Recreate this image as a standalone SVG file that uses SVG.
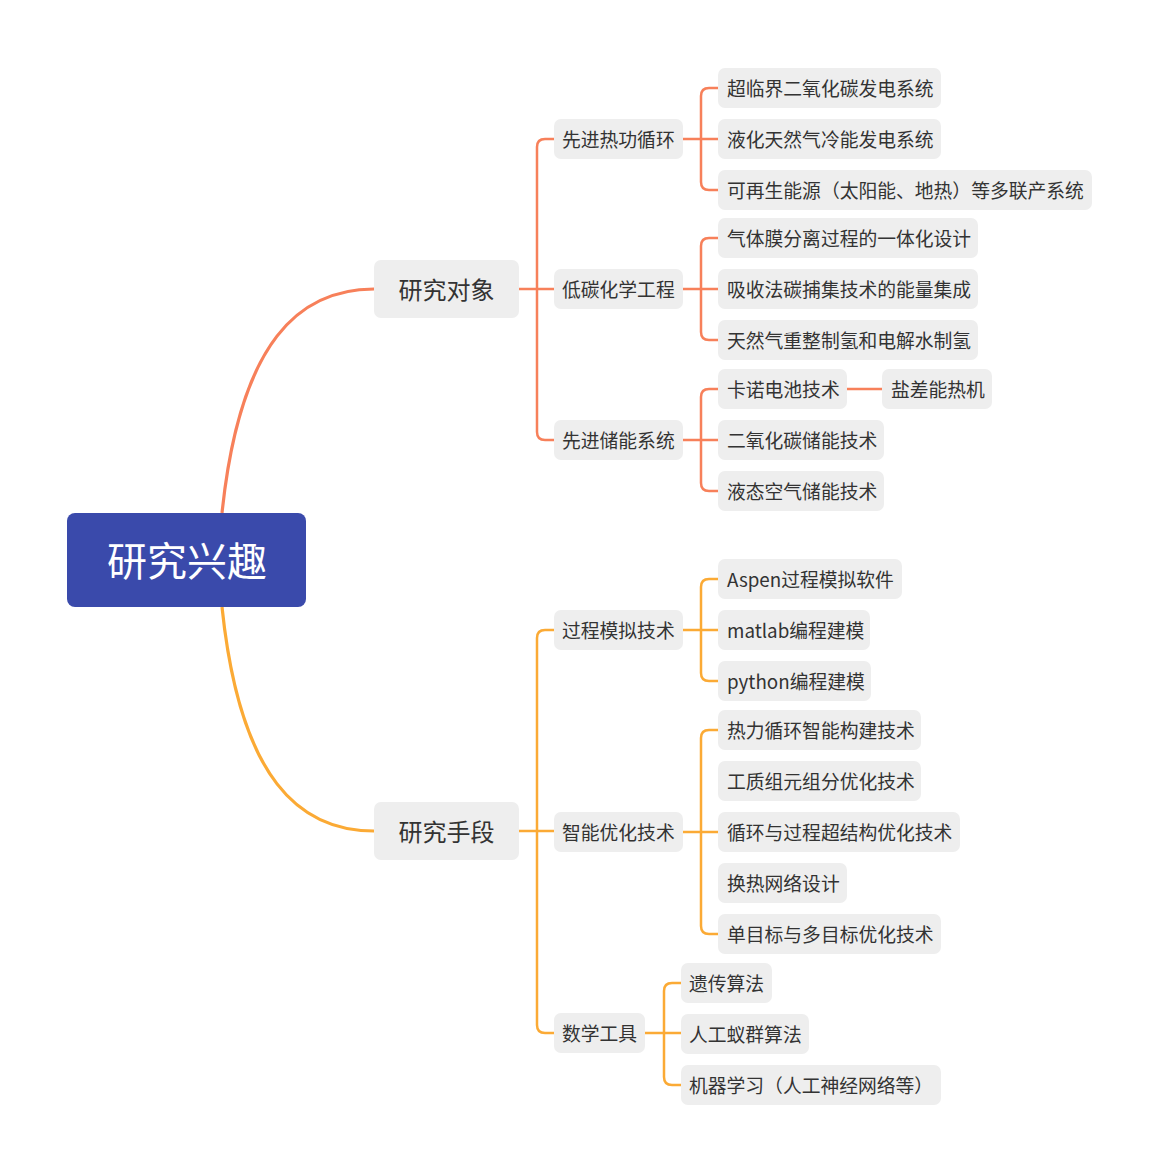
<svg xmlns="http://www.w3.org/2000/svg" width="1160" height="1172" viewBox="0 0 1160 1172">
<style>
.n{fill:#eeeeee}
.t{font-family:"Noto Sans CJK SC","Noto Sans",sans-serif;fill:#333333;dominant-baseline:central}
.l3{font-size:18.8px}
.l2{font-size:18.8px}
.l1{font-size:24px}
.o{fill:none;stroke:#f7805a;stroke-width:2.5}
.y{fill:none;stroke:#fbaa35;stroke-width:2.5}
</style>
<rect width="1160" height="1172" fill="#ffffff"/>
<g id="connectors">
<path class="o" d="M222,513 C240,340 300,289 374,289" style="stroke-width:3.2"/>
<path class="y" d="M222,607 C240,780 300,831 374,831" style="stroke-width:3.2"/>
<path class="o" d="M519,289 H554 M554,139 H545 Q537,139 537,147 V432 Q537,440 545,440 H554"/>
<path class="o" d="M683,139 H718 M718,88 H709 Q701,88 701,96 V182 Q701,190 709,190 H718"/>
<path class="o" d="M683,289 H718 M718,238 H709 Q701,238 701,246 V332 Q701,340 709,340 H718"/>
<path class="o" d="M683,440 H718 M718,389 H709 Q701,389 701,397 V483 Q701,491 709,491 H718"/>
<path class="o" d="M847,389 H882"/>
<path class="y" d="M519,831 H554 M554,630 H545 Q537,630 537,638 V1025 Q537,1033 545,1033 H554"/>
<path class="y" d="M683,630 H718 M718,579 H709 Q701,579 701,587 V673 Q701,681 709,681 H718"/>
<path class="y" d="M683,832 H718 M718,730 H709 Q701,730 701,738 V926 Q701,934 709,934 H718"/>
<path class="y" d="M645,1033 H681 M681,983 H672 Q664,983 664,991 V1077 Q664,1085 672,1085 H681"/>
</g>
<g id="root"><rect x="67" y="513" width="239" height="94" rx="8" fill="#3a4aab"/><text x="187" y="559" text-anchor="middle" font-family="Noto Sans CJK SC,sans-serif" font-size="40" fill="#ffffff" dominant-baseline="central">研究兴趣</text></g>
<g id="yjdx"><rect class="n" x="374" y="260" width="145" height="58" rx="7"/><text class="t l1" x="446.5" y="288" text-anchor="middle">研究对象</text></g>
<g id="yjsd"><rect class="n" x="374" y="802" width="145" height="58" rx="7"/><text class="t l1" x="446.5" y="830" text-anchor="middle">研究手段</text></g>
<g id="xjrg"><rect class="n" x="554" y="119" width="129" height="40" rx="7"/><text class="t l2" x="562" y="138">先进热功循环</text></g>
<g id="dthx"><rect class="n" x="554" y="269" width="129" height="40" rx="7"/><text class="t l2" x="562" y="288">低碳化学工程</text></g>
<g id="xjcn"><rect class="n" x="554" y="420" width="129" height="40" rx="7"/><text class="t l2" x="562" y="439">先进储能系统</text></g>
<g id="gcmn"><rect class="n" x="554" y="610" width="129" height="40" rx="7"/><text class="t l2" x="562" y="629">过程模拟技术</text></g>
<g id="znyh"><rect class="n" x="554" y="812" width="129" height="40" rx="7"/><text class="t l2" x="562" y="831">智能优化技术</text></g>
<g id="sxgj"><rect class="n" x="554" y="1013" width="91" height="40" rx="7"/><text class="t l2" x="562" y="1032">数学工具</text></g>
<g id="a1"><rect class="n" x="718" y="68" width="223" height="40" rx="7"/><text class="t l3" x="727" y="87">超临界二氧化碳发电系统</text></g>
<g id="a2"><rect class="n" x="718" y="119" width="223" height="40" rx="7"/><text class="t l3" x="727" y="138">液化天然气冷能发电系统</text></g>
<g id="a3"><rect class="n" x="718" y="170" width="374" height="40" rx="7"/><text class="t l3" x="727" y="189">可再生能源（太阳能、地热）等多联产系统</text></g>
<g id="b1"><rect class="n" x="718" y="218" width="260" height="40" rx="7"/><text class="t l3" x="727" y="237">气体膜分离过程的一体化设计</text></g>
<g id="b2"><rect class="n" x="718" y="269" width="260" height="40" rx="7"/><text class="t l3" x="727" y="288">吸收法碳捕集技术的能量集成</text></g>
<g id="b3"><rect class="n" x="718" y="320" width="260" height="40" rx="7"/><text class="t l3" x="727" y="339">天然气重整制氢和电解水制氢</text></g>
<g id="c1"><rect class="n" x="718" y="369" width="129" height="40" rx="7"/><text class="t l3" x="727" y="388">卡诺电池技术</text></g>
<g id="c1a"><rect class="n" x="882" y="369" width="110" height="40" rx="7"/><text class="t l3" x="891" y="388">盐差能热机</text></g>
<g id="c2"><rect class="n" x="718" y="420" width="166" height="40" rx="7"/><text class="t l3" x="727" y="439">二氧化碳储能技术</text></g>
<g id="c3"><rect class="n" x="718" y="471" width="166" height="40" rx="7"/><text class="t l3" x="727" y="490">液态空气储能技术</text></g>
<g id="d1"><rect class="n" x="718" y="559" width="184" height="40" rx="7"/><text class="t l3" x="727" y="578">Aspen过程模拟软件</text></g>
<g id="d2"><rect class="n" x="718" y="610" width="152" height="40" rx="7"/><text class="t l3" x="727" y="629">matlab编程建模</text></g>
<g id="d3"><rect class="n" x="718" y="661" width="153" height="40" rx="7"/><text class="t l3" x="727" y="680">python编程建模</text></g>
<g id="e1"><rect class="n" x="718" y="710" width="203" height="40" rx="7"/><text class="t l3" x="727" y="729">热力循环智能构建技术</text></g>
<g id="e2"><rect class="n" x="718" y="761" width="203" height="40" rx="7"/><text class="t l3" x="727" y="780">工质组元组分优化技术</text></g>
<g id="e3"><rect class="n" x="718" y="812" width="242" height="40" rx="7"/><text class="t l3" x="727" y="831">循环与过程超结构优化技术</text></g>
<g id="e4"><rect class="n" x="718" y="863" width="129" height="40" rx="7"/><text class="t l3" x="727" y="882">换热网络设计</text></g>
<g id="e5"><rect class="n" x="718" y="914" width="223" height="40" rx="7"/><text class="t l3" x="727" y="933">单目标与多目标优化技术</text></g>
<g id="f1"><rect class="n" x="681" y="963" width="91" height="40" rx="7"/><text class="t l3" x="689" y="982">遗传算法</text></g>
<g id="f2"><rect class="n" x="681" y="1014" width="128" height="40" rx="7"/><text class="t l3" x="689" y="1033">人工蚁群算法</text></g>
<g id="f3"><rect class="n" x="681" y="1065" width="260" height="40" rx="7"/><text class="t l3" x="689" y="1084">机器学习（人工神经网络等）</text></g>
</svg>
